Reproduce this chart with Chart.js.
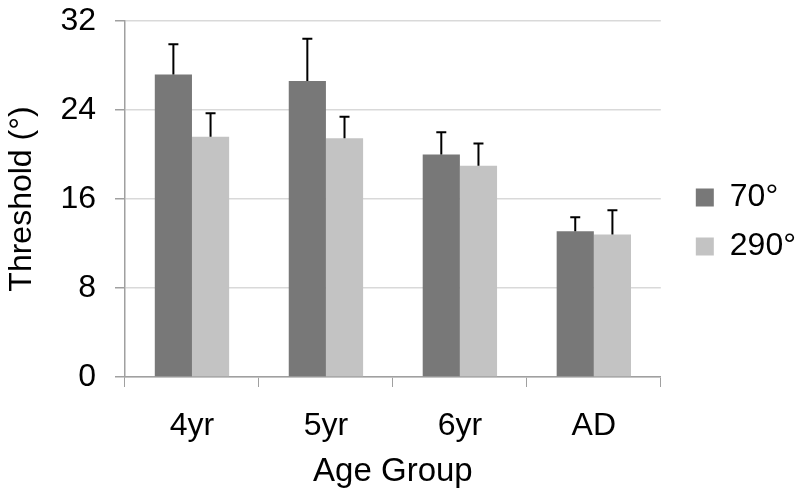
<!DOCTYPE html>
<html>
<head>
<meta charset="utf-8">
<script src="https://cdn.jsdelivr.net/npm/chart.js@4"></script>
<style>
  html, body { margin: 0; padding: 0; background: #fff; }
  #wrap { width: 800px; height: 499px; position: relative; }
</style>
</head>
<body>
<div id="wrap"><canvas id="chart"></canvas></div>
<script>
// values
const groups = ["4yr", "5yr", "6yr", "AD"];
const mean70 = [27.2, 26.6, 20.0, 13.1];
const err70 = [2.7, 3.8, 2.0, 1.25];
const mean290 = [21.6, 21.45, 19.0, 12.8];
const err290 = [2.1, 1.95, 2.0, 2.2];
const yTicks = [0, 8, 16, 24, 32];

const FONT = "'Liberation Sans', Arial, sans-serif";
const errs = [err70, err290];

// upward-only error bars, drawn from the bar tops through the y scale
const errorBars = {
  id: "errorBars",
  afterDatasetsDraw(chart) {
    const ctx = chart.ctx;
    const yScale = chart.scales.y;
    ctx.save();
    ctx.strokeStyle = "#000";
    ctx.lineWidth = 2;
    chart.data.datasets.forEach((ds, i) => {
      const meta = chart.getDatasetMeta(i);
      meta.data.forEach((bar, j) => {
        const top = yScale.getPixelForValue(ds.data[j] + errs[i][j]);
        ctx.beginPath();
        ctx.moveTo(bar.x, bar.y);
        ctx.lineTo(bar.x, top);
        ctx.moveTo(bar.x - 5, top);
        ctx.lineTo(bar.x + 5, top);
        ctx.stroke();
      });
    });
    ctx.restore();
  },
};

new Chart(document.getElementById("chart"), {
  type: "bar",
  data: {
    labels: groups,
    datasets: [
      { label: "70°", data: mean70, backgroundColor: "#787878" },
      { label: "290°", data: mean290, backgroundColor: "#c3c3c3" },
    ],
  },
  options: {
    responsive: true,
    maintainAspectRatio: false,
    animation: false,
    layout: { padding: { top: 21, left: 3, right: -6, bottom: 7 } },
    datasets: { bar: { categoryPercentage: 0.555, barPercentage: 1.0 } },
    plugins: {
      tooltip: { enabled: false },
      legend: {
        position: "right",
        align: "center",
        fullSize: false,
        title: { display: true, text: "", font: { size: 10 }, padding: { top: 34, bottom: 0 } },
        labels: {
          boxWidth: 18,
          boxHeight: 18,
          padding: 17,
          color: "#000",
          font: { family: FONT, size: 32 },
        },
      },
    },
    scales: {
      x: {
        grid: { drawOnChartArea: false, tickLength: 10, tickColor: "#a0a0a0" },
        border: { color: "#a0a0a0", width: 1.5 },
        ticks: { color: "#000", font: { family: FONT, size: 32 }, padding: 20 },
        title: {
          display: true,
          text: "Age Group",
          color: "#000",
          font: { family: FONT, size: 33 },
          padding: { top: 2, bottom: 0 },
        },
        afterFit(scale) {
          scale.height = 115;
        },
      },
      y: {
        min: 0,
        max: 32,
        afterBuildTicks(scale) {
          scale.ticks = yTicks.map((v) => ({ value: v }));
        },
        grid: { color: "#d9d9d9", lineWidth: 1.5, tickLength: 10, tickColor: "#a0a0a0" },
        border: { color: "#a0a0a0", width: 1.5 },
        ticks: { color: "#000", font: { family: FONT, size: 32 }, padding: 19 },
        title: {
          display: true,
          text: "Threshold (°)",
          color: "#000",
          font: { family: FONT, size: 32 },
          padding: { top: 0, bottom: 0 },
        },
        afterFit(scale) {
          scale.paddingTop = 0;
          scale.paddingBottom = 0;
        },
      },
      // empty spacer between the plot and the legend
      gap: {
        type: "linear",
        position: "right",
        grid: { display: false },
        border: { display: false },
        ticks: { display: false },
        afterFit(scale) {
          scale.width = 18;
        },
      },
    },
  },
  plugins: [errorBars],
});
</script>
</body>
</html>
